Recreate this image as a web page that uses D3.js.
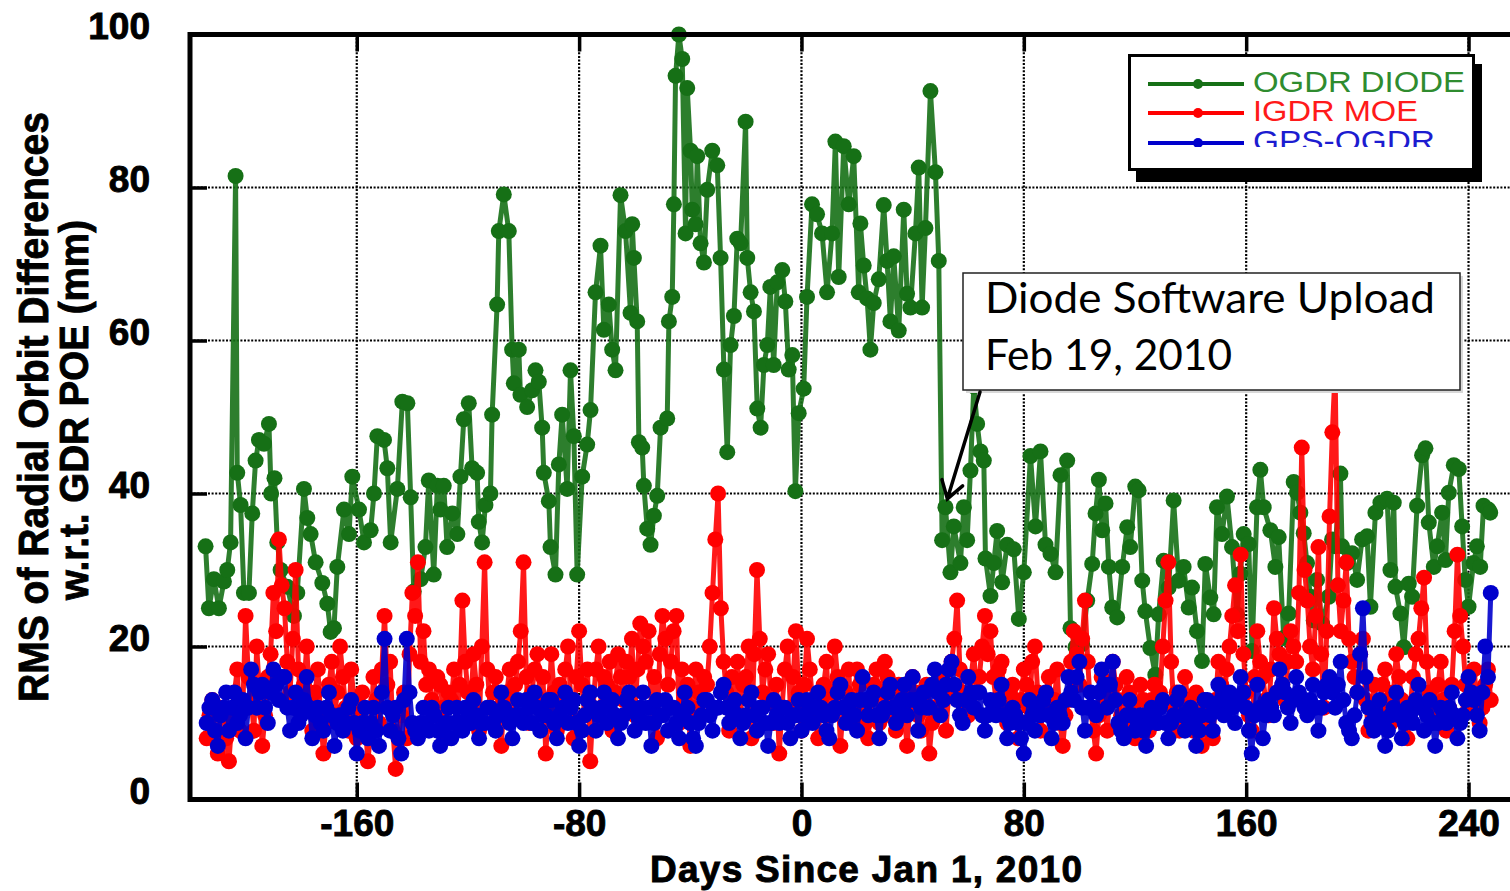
<!DOCTYPE html>
<html>
<head>
<meta charset="utf-8">
<script src="https://cdn.jsdelivr.net/npm/d3@7"></script>
<style>
  html,body{margin:0;padding:0;background:#fff;}
  svg{display:block;font-family:"Liberation Sans",Arial,sans-serif;}
</style>
</head>
<body>
<div id="chart"></div>
<script>
// OGDR DIODE: [day since Jan 1 2010, RMS mm]
const ogdrDiode=[[-214.4,33.1],[-213.2,25],[-211.4,28.8],[-209.6,25],[-207.8,28.5],[-206.6,30],[-205.4,33.6],[-203.6,81.5],[-203,42.7],[-201.8,38.5],[-200.6,27],[-198.8,27],[-197.6,37.4],[-196.4,44.3],[-195.2,47],[-193.4,46.5],[-191.6,49.1],[-190.8,40],[-189.6,42],[-188.6,33.6],[-187.4,30],[-185,27.8],[-182.6,24],[-181.4,27],[-179,40.6],[-177.8,36.8],[-176.6,34.7],[-174.8,31],[-172.4,28.3],[-170.6,25.6],[-169.4,21.9],[-168.2,22.4],[-167,30.4],[-164.6,37.9],[-162.8,34.7],[-161.6,42.2],[-159.2,37.9],[-157.4,33.6],[-155,35.2],[-153.8,40],[-152.6,47.5],[-150.2,47],[-149,43.3],[-147.8,33.6],[-145.4,40.6],[-143.6,52],[-141.8,51.8],[-140.6,39.5],[-139.5,27.2],[-137,28.8],[-135.3,33],[-134.1,41.7],[-132.3,29.4],[-131,41],[-129.9,37.9],[-128.7,41],[-127.5,33],[-125.6,37.4],[-123.8,34.7],[-122.7,42.2],[-121.5,49.7],[-119.7,51.8],[-118.5,43.3],[-116.7,42.7],[-116.1,36.3],[-114.9,33.6],[-113.7,38.5],[-111.9,40],[-111.3,50.3],[-109.5,64.7],[-108.9,74.3],[-107.1,79.1],[-105.3,74.3],[-104.1,58.8],[-103.5,54.4],[-101.7,58.8],[-101.1,52.9],[-98.7,51.3],[-96.9,53.5],[-95.7,56.1],[-94.5,54.6],[-93.3,48.6],[-92.7,42.7],[-90.9,39],[-90.3,33],[-88.5,29.4],[-87.3,43.8],[-86.1,50.3],[-84.3,40.6],[-83.1,56.1],[-81.9,47.5],[-80.7,29.4],[-78.9,42.2],[-77.1,46.4],[-75.9,50.9],[-74.1,66.3],[-72.3,72.4],[-71.1,61.4],[-69.3,64.7],[-68.1,58.8],[-66.9,56.1],[-65.1,79],[-63.3,74.3],[-61.5,63.6],[-60.9,75.2],[-60.3,70.8],[-59.1,62.5],[-58.5,46.7],[-57.3,46],[-56.7,41],[-55.5,35.4],[-54.3,33.3],[-53.1,37.1],[-51.9,39.7],[-50.7,48.6],[-48.3,49.8],[-47.7,62.5],[-46.5,65.7],[-45.9,77.8],[-45.3,94.6],[-44.1,100],[-42.9,96.8],[-41.7,74],[-41.1,93],[-39.9,84.8],[-39.3,77.1],[-38.1,75.2],[-37.5,84.1],[-36.3,72.7],[-35.1,70.2],[-33.9,79.7],[-32.1,84.8],[-30.3,82.9],[-29.1,70.8],[-27.9,56.2],[-26.7,45.4],[-25.5,59.4],[-24.3,63.2],[-23.1,73.3],[-21.9,72.7],[-20.1,88.6],[-19.5,70.8],[-18.3,66.3],[-17.1,63.8],[-15.9,51.1],[-14.7,48.6],[-13.5,56.8],[-12.3,59.4],[-11.2,67],[-10,56.8],[-8.7,67.6],[-6.9,69.2],[-5.8,65.1],[-4.6,56.2],[-3.3,58.1],[-2.2,40.3],[-1,50.5],[0.8,53.7],[2,65.7],[3.8,77.8],[5.6,76.5],[7.4,74],[9.2,66.3],[11,74],[12.2,86],[13.4,68.3],[15.2,85.4],[17,77.8],[18.8,84.1],[20.6,66.3],[21.2,75.3],[22.4,69.8],[23.6,65.5],[24.8,58.8],[26,64.9],[27.8,68],[29.6,77.7],[30.8,70.4],[32,62.5],[33.2,71],[35,61.3],[36.8,77.1],[38,66.1],[39.2,64.3],[41,74],[42.2,82.6],[43.4,64.3],[44.6,74.7],[46.4,92.6],[48.2,82],[49.4,70.4],[50.6,33.9],[51.8,38.2],[53.6,29.7],[54.8,35.7],[57.2,30.9],[58.4,38.2],[59.6,33.9],[60.8,43],[62,54],[63.2,49.1],[64.4,45.5],[65.6,44.3],[66.2,31.5],[68,26.6],[69.2,30.9],[70.4,35.1],[72.2,28.4],[74,33.3],[76.4,32.7],[78.2,23.6],[80,29.7],[82.4,44.9],[84.2,35.7],[86,45.5],[87.8,33.3],[89.6,32.1],[91.4,29.7],[93.2,42.4],[95.6,44.3],[96.8,22.4],[98.6,19.9],[101,20.3],[102.8,26],[104.6,30.8],[105.8,37.4],[107,41.8],[108.2,35.2],[109.4,38.7],[110.6,30.4],[111.8,25.1],[113.6,23.8],[115.4,30.4],[117.2,35.6],[118.3,33],[120.1,40.9],[121.3,40.4],[122.6,28.6],[123.7,24.6],[125.5,19.8],[127.3,16.3],[128.5,24.2],[130.3,31.2],[132.1,27.7],[133.9,39.1],[135.7,28.6],[137.5,30.4],[139.3,25.1],[140.5,27.7],[142.3,22],[144.1,18.1],[145.3,30.8],[147.1,26.4],[148.3,24.2],[149.5,38.2],[151.3,34.7],[153.1,39.6],[154.9,33],[156.7,24.2],[157.9,29.5],[159.1,34.7],[160.9,33.4],[162.1,19.4],[163.9,38.2],[165.1,43.1],[166.3,38.2],[168.7,35.2],[170.5,30.4],[171.7,34.3],[173.5,21.1],[175.3,24.3],[177.1,41.5],[178.3,40.1],[179.5,37.5],[180.7,34.8],[181.9,30.9],[183.1,26.5],[184.3,23.4],[185.5,28.7],[187.3,23],[189.7,26.5],[190.9,34],[192.1,33.1],[193.9,42.6],[194.5,33.1],[196.3,30.9],[198.1,32.2],[199.9,28.7],[201.7,34],[203.5,34.4],[204.7,25.2],[206.5,37.5],[208.3,38.8],[210.7,39.3],[211.9,30],[213.1,38.8],[213.7,27.8],[215.5,24.3],[216.7,19.9],[218.5,28.2],[219.7,26.5],[221.5,38.4],[223.3,45],[224.5,45.9],[225.7,36.2],[227.5,30.4],[228.7,33.1],[230.5,37.5],[231.7,31.3],[232.9,40.1],[234.7,43.7],[236.5,43.2],[237.7,35.7],[238.8,28.7],[240,25.2],[241.8,30.9],[243,33.1],[244.2,30.4],[245.4,38.4],[247.2,37.9],[247.8,37.5]];

// IGDR MOE and GPS-OGDR are daily values, first day below, 20 days per row
const dailyStart=-214;
const igdrMoe=[
  8,11,13,9,6,12,11,8,5,10,14,17,9,12,24,16,13,9,20,14,
  7,11,16,19,27,22,34,28,25,18,14,21,30,17,12,15,20,13,9,14,
  17,11,6,10,15,18,11,14,20,16,12,9,17,13,8,12,14,10,5,9,
  16,13,10,17,24,15,18,9,4,8,11,14,8,19,27,24,31,18,22,15,
  17,13,11,16,15,12,8,14,13,17,10,15,26,18,14,12,19,15,9,20,
  31,17,12,14,16,11,7,13,14,17,11,15,18,22,31,16,10,14,17,19,
  13,16,6,12,19,14,9,15,14,17,20,13,8,16,22,15,11,17,5,12,
  17,20,12,16,15,18,9,14,19,16,13,18,16,21,11,17,23,20,18,22,
  12,16,8,19,24,21,15,18,22,24,10,17,13,15,7,12,17,14,11,16,
  15,20,27,34,40,25,18,14,9,16,13,18,11,15,16,20,8,19,30,21,
  14,17,19,13,10,15,6,12,17,20,12,16,22,14,9,15,21,17,13,11,
  8,13,15,18,11,14,20,16,7,12,14,17,10,13,17,15,12,10,8,13,
  15,17,10,14,18,16,11,13,9,15,14,11,7,12,16,14,11,9,13,15,
  6,10,12,15,16,13,9,14,18,21,26,17,14,12,11,16,19,14,16,20,
  24,19,22,16,13,17,18,12,10,14,15,11,8,13,17,15,12,18,20,14,
  9,12,14,16,11,13,17,10,7,11,13,18,22,19,15,21,26,18,12,9,
  6,11,16,13,9,14,18,15,13,11,10,16,14,12,8,11,15,13,11,9,
  13,15,10,14,20,26,31,18,12,14,9,12,16,13,11,9,14,11,7,10,
  12,9,8,13,18,15,13,17,20,24,28,22,32,19,14,11,9,16,22,18,
  16,13,11,17,25,21,19,15,13,18,22,20,18,27,46,30,26,20,17,24,
  33,19,12,22,37,48,56,28,22,26,31,21,18,16,14,19,21,13,9,12,
  15,11,12,15,17,13,10,14,19,16,13,10,8,12,16,19,21,25,29,18,
  14,12,11,15,18,13,9,12,15,22,32,24,20,15,12,14,17,13,10,12,
  15,17,13];
const gpsOgdr=[
  10,12,13,9,7,11,12,14,9,12,14,10,11,13,8,12,17,15,12,14,
  15,12,10,14,17,15,13,16,16,12,9,12,14,10,11,13,16,12,8,11,
  12,10,9,12,14,11,7,10,11,9,10,12,13,10,6,9,10,12,8,10,
  12,9,7,14,21,12,9,11,12,8,6,13,21,14,10,9,8,10,12,10,
  9,12,11,9,7,9,10,12,8,10,12,10,9,12,11,10,13,11,8,10,
  10,12,12,10,9,11,14,12,11,10,8,11,13,11,10,13,12,10,14,12,
  9,11,11,13,13,10,8,11,12,14,10,12,13,10,7,9,11,13,14,12,
  9,11,12,14,10,12,13,11,8,10,11,13,14,12,9,11,12,14,10,12,
  7,10,13,11,11,13,9,12,12,10,8,11,14,12,10,8,7,10,11,13,
  13,11,9,12,12,14,15,12,10,12,13,11,8,10,11,13,14,11,9,12,
  12,10,7,10,13,11,10,12,12,10,8,11,11,13,9,11,13,12,10,12,
  14,12,11,9,8,11,12,14,15,12,10,12,13,11,9,13,16,13,11,13,
  14,11,8,11,12,14,15,12,10,12,13,15,11,13,16,13,9,12,14,12,
  12,15,17,14,11,13,15,17,18,15,13,11,10,13,16,14,12,14,14,11,
  9,11,13,12,11,13,15,11,8,10,12,11,10,8,6,10,13,11,9,12,
  11,13,14,11,8,10,12,11,10,13,16,14,13,16,18,12,9,12,14,12,
  11,14,17,15,12,15,18,13,10,9,8,11,13,11,9,10,11,9,7,10,
  12,11,10,12,13,10,8,10,11,13,14,11,9,11,12,10,7,9,11,13,
  13,11,9,12,15,13,11,13,14,12,10,13,16,14,12,9,6,11,15,12,
  8,11,13,12,11,14,17,15,14,12,10,13,16,14,13,12,11,13,15,12,
  9,12,14,15,16,14,12,15,18,13,10,9,8,11,14,19,25,16,12,10,
  9,11,13,10,7,9,11,12,14,11,8,10,12,11,10,13,15,12,9,11,
  13,10,7,10,12,11,10,12,14,11,8,10,11,13,16,14,13,11,9,14,
  20,16,27];

const xTicks=[-160,-80,0,80,160,240];
const yTicks=[0,20,40,60,80,100];
const seriesNames=["OGDR DIODE","IGDR MOE","GPS-OGDR"];
const xTitle="Days Since Jan 1, 2010";
const yTitle=["RMS of Radial Orbit Differences","w.r.t. GDR POE (mm)"];
const noteLines=["Diode Software Upload","Feb 19, 2010"];
const notePoint=[52.5,39.3];

const W=1510,H=891;
const colors=["#167016","#ff0000","#0000cc"];
const textColors=["#2f8c2f","#ff1a1a","#1c1cd0"];

const svg=d3.select("#chart").append("svg").attr("width",W).attr("height",H);
const x=d3.scaleLinear().domain([-220,256]).range([190,1513]);
const y=d3.scaleLinear().domain([0,100]).range([799.5,34.5]);
const [x0,x1]=x.range(),[y0,y1]=y.range();

// dotted grid
const grid=svg.append("g").attr("stroke","#000").attr("stroke-width",2.2).attr("stroke-dasharray","2,1.6");
grid.selectAll(".gy").data(yTicks.filter(v=>v>0&&v<100)).join("line")
  .attr("x1",x0).attr("x2",x1).attr("y1",d=>y(d)).attr("y2",d=>y(d));
grid.selectAll(".gx").data(xTicks).join("line")
  .attr("x1",d=>x(d)).attr("x2",d=>x(d)).attr("y1",y0).attr("y2",y1);

// series: thick line + chunky dots, later series on top
const daily=vals=>vals.map((v,i)=>[dailyStart+i,v]);
const line=d3.line().x(d=>x(d[0])).y(d=>y(d[1]));
[ogdrDiode,daily(igdrMoe),daily(gpsOgdr)].forEach((data,i)=>{
  const g=svg.append("g");
  g.append("path").datum(data).attr("d",line).attr("fill","none")
    .attr("stroke",colors[i]).attr("stroke-width",5).attr("stroke-opacity",.9).attr("stroke-linejoin","round");
  g.selectAll("circle").data(data).join("circle")
    .attr("cx",d=>x(d[0])).attr("cy",d=>y(d[1])).attr("r",8).attr("fill",colors[i]);
});

// frame and inward ticks
svg.append("rect").attr("x",x0).attr("y",y1).attr("width",x1-x0).attr("height",y0-y1)
  .attr("fill","none").attr("stroke","#000").attr("stroke-width",5);
const heavy=s=>s.attr("fill","#000").attr("stroke","#000").attr("stroke-width",0.9).attr("font-weight","bold")
  .attr("font-family","'Liberation Sans',Arial,sans-serif");
const tickStyle=s=>{
  s.select(".domain").remove();
  s.selectAll("line").attr("stroke","#000").attr("stroke-width",3.5);
  s.selectAll("text").attr("font-size",37).call(heavy);
};
svg.append("g").attr("transform",`translate(0,${y0})`)
  .call(d3.axisBottom(x).tickValues(xTicks).tickSize(-17).tickPadding(10).tickFormat(d=>String(d)))
  .call(tickStyle);
svg.append("g").attr("transform",`translate(0,${y1})`)
  .call(d3.axisTop(x).tickValues(xTicks).tickSize(-17).tickFormat(""))
  .call(tickStyle);
svg.append("g").attr("transform",`translate(${x0},0)`)
  .call(d3.axisLeft(y).tickValues(yTicks).tickSize(-17).tickPadding(40))
  .call(tickStyle)
  .call(s=>s.selectAll("text").attr("dy","4px"));

// axis titles
svg.append("text").attr("x",866).attr("y",882).attr("text-anchor","middle")
  .attr("font-size",37).attr("textLength",432).attr("lengthAdjust","spacing").call(heavy)
  .text(xTitle);
yTitle.forEach((t,i)=>{
  svg.append("text").attr("transform",`translate(${[48,88][i]},${[407,410][i]}) rotate(-90)`)
    .attr("text-anchor","middle").attr("font-size",[42,40][i]).call(heavy)
    .attr("textLength",[590,380][i]).attr("lengthAdjust","spacingAndGlyphs").text(t);
});

// legend
const lg=svg.append("g");
lg.append("rect").attr("x",1136).attr("y",64).attr("width",346).attr("height",118).attr("fill","#000");
lg.append("rect").attr("x",1129.5).attr("y",55.5).attr("width",344).attr("height",114)
  .attr("fill","#fff").attr("stroke","#000").attr("stroke-width",3);
svg.append("clipPath").attr("id","lgclip").append("rect").attr("x",1130).attr("y",56).attr("width",340).attr("height",91);
const items=lg.append("g").attr("clip-path","url(#lgclip)");
const rowY=[84,113,143];
seriesNames.forEach((name,i)=>{
  items.append("line").attr("x1",1148).attr("x2",1244).attr("y1",rowY[i]).attr("y2",rowY[i])
    .attr("stroke",colors[i]).attr("stroke-width",4);
  items.append("circle").attr("cx",1198).attr("cy",rowY[i]).attr("r",5).attr("fill",colors[i]);
  items.append("text").attr("x",1253).attr("y",rowY[i]+8).attr("font-size",29).attr("fill",textColors[i])
    .attr("textLength",[212,165,182][i]).attr("lengthAdjust","spacingAndGlyphs").text(name);
});

// annotation
const an=svg.append("g");
an.append("rect").attr("x",966).attr("y",276).attr("width",497).attr("height",117).attr("fill","#d8d8d8");
an.append("rect").attr("x",963).attr("y",273).attr("width",497).attr("height",117)
  .attr("fill","#fff").attr("stroke","#222").attr("stroke-width",1.5);
noteLines.forEach((t,i)=>{
  an.append("text").attr("x",985).attr("y",[313,370][i]).attr("font-family","Lato,'Open Sans',sans-serif")
    .attr("font-size",42).attr("fill","#000").attr("textLength",[450,247][i]).attr("lengthAdjust","spacingAndGlyphs").text(t);
});
const tip=[x(notePoint[0]),y(notePoint[1])],start=[980,392];
const ang=Math.atan2(start[1]-tip[1],start[0]-tip[0]),bl=20,spread=Math.PI/5.5;
an.append("path").attr("fill","none").attr("stroke","#000").attr("stroke-width",3.5).attr("stroke-linecap","round")
  .attr("d",`M${start[0]},${start[1]}L${tip[0]},${tip[1]}`+
    `M${tip[0]+bl*Math.cos(ang-spread)},${tip[1]+bl*Math.sin(ang-spread)}L${tip[0]},${tip[1]}`+
    `L${tip[0]+bl*Math.cos(ang+spread)},${tip[1]+bl*Math.sin(ang+spread)}`);
</script>
</body>
</html>
